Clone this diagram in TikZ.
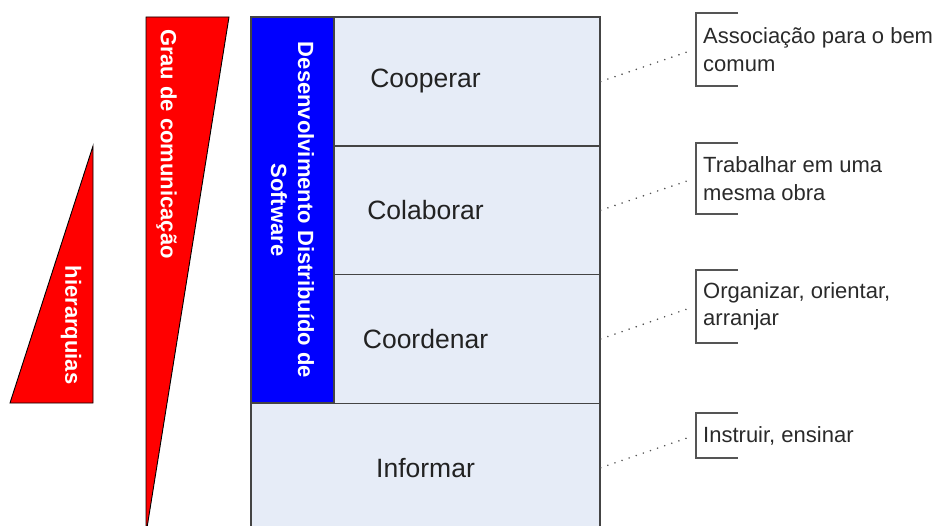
\documentclass[tikz,border=0pt]{standalone}
\usepackage{fontspec}
\setmainfont{Liberation Sans}
\definecolor{edge}{HTML}{444444}
\definecolor{cellfill}{HTML}{E6ECF7}
\definecolor{txt}{HTML}{222222}
\definecolor{notetxt}{HTML}{2A2A2A}
\definecolor{brk}{HTML}{555555}
\definecolor{leadc}{HTML}{555555}
\begin{document}
\begin{tikzpicture}[x=1pt,y=-1pt,
  cell/.style={draw=edge, fill=cellfill, line width=1.5pt, minimum width=349pt, minimum height=128.75pt, inner sep=0pt, font=\fontsize{26.5}{30}\selectfont, text=txt},
  vlabel/.style={text=white, font=\fontsize{22}{27}\selectfont\bfseries, inner sep=0pt},
  tri/.style={fill=red, draw=black, line width=0.9pt},
  note/.style={anchor=west, inner sep=0pt, align=left, font=\fontsize{22}{27.5}\selectfont, text=notetxt},
  bracket/.style={draw=brk, line width=1.8pt},
  leader/.style={draw=leadc, line width=1.8pt, dash pattern=on 0.01pt off 7.5pt, line cap=round}]
\useasboundingbox (0,0) rectangle (939,526);
\begin{scope}
\clip (0,0) rectangle (939,526);
% triangles
\path[tri] (10,403) -- (93,403) -- (93,146) -- cycle;
\node[vlabel, rotate=-90] (hier) at (71,325) {hierarquias};
\path[tri] (146,17) -- (229,17) -- (146,534) -- cycle;
\node[vlabel, rotate=-90] (grau) at (166.5,144) {Grau de comunicação};
% rows
\node[cell] (coop) at (425.5,81.5) {Cooperar};
\node[cell] (colab) at (425.5,210.25) {Colaborar};
\node[cell] (coord) at (425.5,339) {Coordenar};
\node[cell] (info) at (425.5,467.75) {Informar};
% blue box
\node[draw=edge, fill=blue, line width=1.5pt, rotate=-90, minimum width=386pt, minimum height=83pt, align=center, vlabel] (dds) at (292.5,210) {Desenvolvimento Distribuído de\\Software};
% notes
\node[note] (n1) at (703,49.5) {Associação para o bem\\comum};
\draw[bracket] (738,13) -- (696,13) -- (696,86) -- (738,86);
\coordinate (e1) at (690,51);
\draw[leader] (coop.east) -- (e1);
\node[note] (n2) at (703,178.5) {Trabalhar em uma\\mesma obra};
\draw[bracket] (738,143) -- (696,143) -- (696,214) -- (738,214);
\coordinate (e2) at (690,180);
\draw[leader] (colab.east) -- (e2);
\node[note] (n3) at (703,306.5) {Organizar, orientar,\\arranjar};
\draw[bracket] (738,270) -- (696,270) -- (696,343) -- (738,343);
\coordinate (e3) at (690,308);
\draw[leader] (coord.east) -- (e3);
\node[note] (n4) at (703,435.5) {Instruir, ensinar};
\draw[bracket] (738,413) -- (696,413) -- (696,458) -- (738,458);
\coordinate (e4) at (690,437);
\draw[leader] (info.east) -- (e4);
\end{scope}
\end{tikzpicture}
\end{document}
